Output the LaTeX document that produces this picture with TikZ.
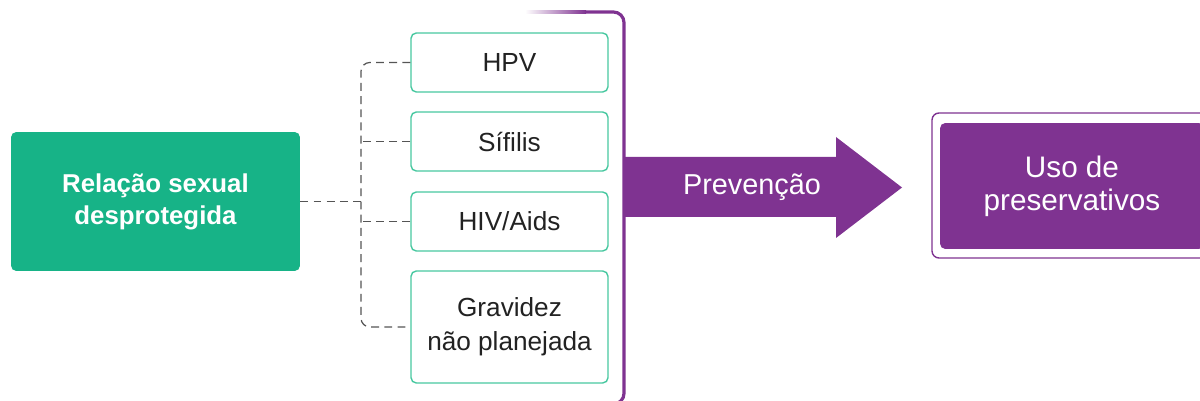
\documentclass[tikz,border=0pt]{standalone}
\usepackage{fontspec}
\setmainfont{Liberation Sans}
\definecolor{verde}{RGB}{23, 179, 135}
\definecolor{roxo}{RGB}{127, 51, 145}
\definecolor{menta}{RGB}{72, 200, 160}
\definecolor{texto}{RGB}{34, 34, 34}
\definecolor{traco}{RGB}{85, 85, 85}
\usetikzlibrary{calc}

\begin{document}
\begin{tikzpicture}[x=0.02cm, y=-0.02cm,
		causa/.style={rectangle, rounded corners=3pt, fill=verde, text=white,
			minimum width=5.78cm, minimum height=2.78cm,
			align=center, font=\fontsize{14.7}{18.2}\selectfont\bfseries},
		risco/.style={rectangle, rounded corners=3pt, draw=menta, line width=0.8pt,
			fill=white, text=texto, minimum width=3.94cm, minimum height=1.18cm,
			align=center, font=\fontsize{14.9}{19.3}\selectfont},
		meta/.style={rectangle, rounded corners=3pt, fill=roxo, text=white,
			minimum width=5.28cm, minimum height=2.52cm,
			align=center, font=\fontsize{16.9}{18.8}\selectfont},
		elo/.style={dash pattern=on 4.5pt off 3pt, color=traco, line width=0.7pt},
		chave/.style={color=roxo, line width=1.8pt, rounded corners=6pt}
		]
		\clip (0,0) rectangle (1200,401);
		
		% Causa
		\node[causa] (rel) at (155.5,201.5) {Relação sexual\\desprotegida};
		
		% Riscos
		\node[risco] (hpv)  at (509.5,62.5)  {HPV};
		\node[risco] (sif)  at (509.5,141.5) {Sífilis};
		\node[risco] (hiv)  at (509.5,221.5) {HIV/Aids};
		\node[risco, minimum height=2.24cm] (grav) at (509.5,327) {Gravidez\\não planejada};
		
		% Ligacoes
		\coordinate (tronco) at (361,201.5);
		\draw[elo] (rel.east) -- (tronco);
		\draw[elo, rounded corners=5pt] (hpv.west) -| (tronco) |- (grav.west);
		\foreach \n in {sif, hiv}
		\draw[elo] (\n.west) -- (\n.west -| tronco);
		
		% Chave
		\shade[left color=white, right color=roxo] (525,10.6) rectangle (586,13.4);
		\draw[chave] (585,12) -- (624,12) -- (624,404) -- (596,404);
		
		% Seta
		\fill[roxo] (624,157) -- (836,157) -- (836,137) -- (902,187.5)
		-- (836,238) -- (836,217) -- (624,217) -- cycle;
		\node[text=white, font=\fontsize{16.4}{19}\selectfont] (prev) at (752,187) {Prevenção};
		
		% Resultado
		\draw[roxo, line width=0.8pt, rounded corners=4pt, fill=white] (932,113) rectangle (1230,258);
		\node[meta] (uso) at (1072,186) {Uso de\\preservativos};
	\end{tikzpicture}
\end{document}
